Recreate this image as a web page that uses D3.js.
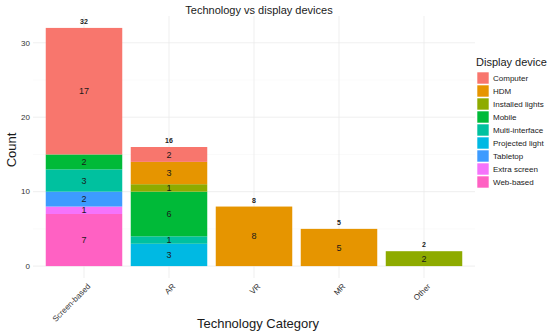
<!DOCTYPE html>
<html>
<head>
<meta charset="utf-8">
<script src="https://cdn.jsdelivr.net/npm/d3@7"></script>
<style>
  body { margin: 0; background: #fff; }
  text { font-family: "Liberation Sans", Arial, sans-serif; }
</style>
</head>
<body>
<svg width="550" height="334"></svg>
<script>
let categories = ["Screen-based", "AR", "VR", "MR", "Other"];
let devices = ["Computer", "HDM", "Installed lights", "Mobile", "Multi-interface",
  "Projected light", "Tabletop", "Extra screen", "Web-based"];
let colors = ["#F8766D", "#E69500", "#8EAB00", "#00BA38", "#00C19F",
  "#00B9E3", "#3D9BFF", "#F573FB", "#FF61C3"];
// counts per device, in category order
let computer = [17, 2, 0, 0, 0];
let hdm = [0, 3, 8, 5, 0];
let installedLights = [0, 1, 0, 0, 2];
let mobile = [2, 6, 0, 0, 0];
let multiInterface = [3, 1, 0, 0, 0];
let projectedLight = [0, 3, 0, 0, 0];
let tabletop = [2, 0, 0, 0, 0];
let extraScreen = [1, 0, 0, 0, 0];
let webBased = [7, 0, 0, 0, 0];
let yTicks = [0, 10, 20, 30];

let series = [computer, hdm, installedLights, mobile, multiInterface,
  projectedLight, tabletop, extraScreen, webBased];

let rows = categories.map((c, i) => {
  let r = { category: c };
  devices.forEach((d, j) => { r[d] = series[j][i]; });
  return r;
});
let totals = categories.map((c, i) => d3.sum(series, s => s[i]));

let svg = d3.select("svg");
let pLeft = 33, pRight = 475, pTop = 16, pBottom = 278;

let x = d3.scaleBand().domain(categories).range([pLeft, pRight])
  .paddingInner(0.1).paddingOuter(0.15);
let y = d3.scaleLinear().domain([-1.6, 33.6]).range([pBottom, pTop]);

// stack bottom-up: last device at bottom
let stack = d3.stack().keys(devices.slice().reverse());
let stacked = stack(rows);

let color = d3.scaleOrdinal().domain(devices).range(colors);

// grid
let grid = svg.append("g");
d3.range(0, 35, 5).forEach(v => {
  grid.append("line")
    .attr("x1", pLeft).attr("x2", pRight)
    .attr("y1", y(v)).attr("y2", y(v))
    .attr("stroke", v % 10 === 0 ? "#ebebeb" : "#f4f4f4")
    .attr("stroke-width", v % 10 === 0 ? 0.8 : 0.5);
});
categories.forEach(c => {
  grid.append("line")
    .attr("x1", x(c) + x.bandwidth() / 2).attr("x2", x(c) + x.bandwidth() / 2)
    .attr("y1", pTop).attr("y2", pBottom)
    .attr("stroke", "#ebebeb").attr("stroke-width", 0.8);
});

// bars
let layers = svg.append("g")
  .selectAll("g")
  .data(stacked)
  .enter()
  .append("g")
  .attr("fill", d => color(d.key));

layers.selectAll("rect")
  .data(d => d.filter(p => p[1] > p[0]))
  .enter()
  .append("rect")
  .attr("x", d => x(d.data.category))
  .attr("y", d => y(d[1]))
  .attr("width", x.bandwidth())
  .attr("height", d => y(d[0]) - y(d[1]));

// segment labels
layers.selectAll("text")
  .data(d => d.filter(p => p[1] > p[0]))
  .enter()
  .append("text")
  .attr("x", d => x(d.data.category) + x.bandwidth() / 2)
  .attr("y", d => y((d[0] + d[1]) / 2))
  .attr("dy", "0.35em")
  .attr("text-anchor", "middle")
  .attr("fill", "#1a1a1a")
  .attr("font-size", "9px")
  .text(d => d[1] - d[0]);

// totals
svg.append("g")
  .selectAll("text")
  .data(categories)
  .enter()
  .append("text")
  .attr("x", d => x(d) + x.bandwidth() / 2)
  .attr("y", (d, i) => y(totals[i]) - 4)
  .attr("text-anchor", "middle")
  .attr("font-size", "7px")
  .attr("font-weight", "bold")
  .attr("fill", "#1a1a1a")
  .text((d, i) => totals[i]);

// y axis labels
svg.append("g")
  .selectAll("text")
  .data(yTicks)
  .enter()
  .append("text")
  .attr("x", 30)
  .attr("y", d => y(d))
  .attr("dy", "0.35em")
  .attr("text-anchor", "end")
  .attr("font-size", "8px")
  .attr("fill", "#333")
  .text(d => d);

// x axis labels
svg.append("g")
  .selectAll("text")
  .data(categories)
  .enter()
  .append("text")
  .attr("transform", d => `translate(${x(d) + x.bandwidth() / 2 + 3},${pBottom + 5}) rotate(-45)`)
  .attr("text-anchor", "end")
  .attr("dy", "0.7em")
  .attr("font-size", "8px")
  .attr("fill", "#333")
  .text(d => d);

// titles
svg.append("text")
  .attr("x", 259).attr("y", 14)
  .attr("text-anchor", "middle")
  .attr("font-size", "11px")
  .attr("fill", "#1a1a1a")
  .text("Technology vs display devices");

svg.append("text")
  .attr("x", 258).attr("y", 328)
  .attr("text-anchor", "middle")
  .attr("font-size", "13px")
  .attr("fill", "#1a1a1a")
  .text("Technology Category");

svg.append("text")
  .attr("transform", `translate(16,150) rotate(-90)`)
  .attr("text-anchor", "middle")
  .attr("font-size", "13px")
  .attr("fill", "#1a1a1a")
  .text("Count");

// legend
let legend = svg.append("g").attr("transform", "translate(476,0)");
legend.append("text")
  .attr("x", 0).attr("y", 66)
  .attr("font-size", "11px")
  .attr("fill", "#1a1a1a")
  .text("Display device");

let items = legend.selectAll("g.item")
  .data(devices)
  .enter()
  .append("g")
  .attr("class", "item")
  .attr("transform", (d, i) => `translate(1,${72 + i * 13})`);

items.append("rect")
  .attr("width", 12).attr("height", 12)
  .attr("fill", d => color(d))
  .attr("stroke", "#fff").attr("stroke-width", 0.6);

items.append("text")
  .attr("x", 16).attr("y", 6.5)
  .attr("dy", "0.35em")
  .attr("font-size", "8px")
  .attr("fill", "#1a1a1a")
  .text(d => d);
</script>
</body>
</html>
